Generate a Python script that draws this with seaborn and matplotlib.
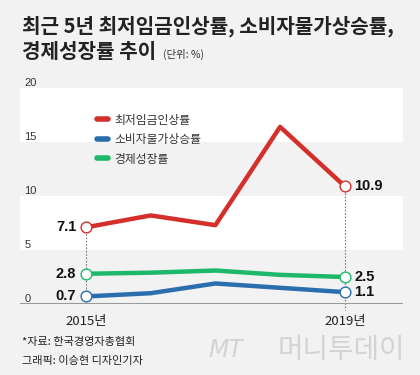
import pandas as pd
import matplotlib.pyplot as plt
import seaborn as sns
from matplotlib.lines import Line2D

# data (%)
years = ["2015", "2016", "2017", "2018", "2019"]
min_wage = [7.1, 8.2, 7.3, 16.4, 10.9]
cpi = [0.7, 1.0, 1.9, 1.5, 1.1]
gdp = [2.8, 2.9, 3.1, 2.7, 2.5]
series_names = ["최저임금인상률", "소비자물가상승률", "경제성장률"]
y_ticks = [0, 5, 10, 15, 20]

colors = {"최저임금인상률": "#d42f2b", "소비자물가상승률": "#2b6eae", "경제성장률": "#1db86a"}
bg = "#f2f2f2"
num_font = ["Liberation Sans", "Noto Sans CJK KR", "DejaVu Sans"]

rows = []
for name, vals in zip(series_names, [min_wage, cpi, gdp]):
    for i, v in enumerate(vals):
        rows.append({"idx": i, "year": years[i], "series": name, "value": v})
df = pd.DataFrame(rows)

sns.set_theme(style="white")
plt.rcParams['font.family'] = ['Noto Sans CJK KR', 'DejaVu Sans']

fig = plt.figure(figsize=(4.2, 3.75), dpi=100)
fig.patch.set_facecolor(bg)
ax = fig.add_axes([20 / 420, (375 - 304) / 375, 383 / 420, 216 / 375])
ax.set_facecolor(bg)

# white bands
ax.axhspan(15, 20, color="white", zorder=0, lw=0)
ax.axhspan(5, 10, color="white", zorder=0, lw=0)

# dotted guides at endpoints
ax.plot([0, 0], [min_wage[0], cpi[0]], ls=(0, (1.5, 1.5)), color="#777777", lw=0.8, zorder=1)
ax.plot([4, 4], [min_wage[4], -0.6], ls=(0, (1.5, 1.5)), color="#777777", lw=0.8, zorder=1,
        clip_on=False)

sns.lineplot(data=df, x="idx", y="value", hue="series", hue_order=series_names,
             palette=colors, linewidth=3.2, ax=ax, legend=False, zorder=2)

ends = df[df["idx"].isin([0, 4])]
for name in series_names:
    sub = ends[ends["series"] == name]
    ax.scatter(sub["idx"], sub["value"], s=60, facecolor="white",
               edgecolor=colors[name], linewidth=1.0, zorder=3)

# value labels
for name in series_names:
    sub = df[df["series"] == name]
    v0 = sub[sub["idx"] == 0]["value"].iloc[0]
    v4 = sub[sub["idx"] == 4]["value"].iloc[0]
    ax.text(-0.15, v0, f"{v0:.1f}", ha="right", va="center", fontsize=10.5,
            fontweight="bold", color="#111111", family=num_font)
    ax.text(4.15, v4, f"{v4:.1f}", ha="left", va="center", fontsize=10.5,
            fontweight="bold", color="#111111", family=num_font)

# baseline
ax.axhline(0, color="#9a9a9a", lw=1.5, zorder=1)

# y tick labels above gridlines
for t in y_ticks:
    ax.text(-0.95, t + 0.45, str(t), ha="left", va="center", fontsize=8,
            color="#333333", family=num_font)

ax.set_xlim(-1.02, 4.9)
ax.set_ylim(0, 20)
ax.axis("off")

# year labels
ax.text(0, -1.6, years[0] + "년", ha="center", va="center", fontsize=9.5, color="#222222")
ax.text(4, -1.6, years[4] + "년", ha="center", va="center", fontsize=9.5, color="#222222")

# legend
handles = [Line2D([0], [0], color=colors[n], lw=4) for n in series_names]
fig.legend(handles, series_names, loc="upper left", bbox_to_anchor=(86 / 420, 1 - 103 / 375),
           frameon=False, fontsize=8.5, handlelength=1.0, handletextpad=0.5,
           labelspacing=0.55, labelcolor="#333333")

# title
fig.text(22 / 420, 1 - 26 / 375, "최근 5년 최저임금인상률, 소비자물가상승률,", fontsize=14.5,
         fontweight="bold", color="#222222", va="center")
fig.text(22 / 420, 1 - 52 / 375, "경제성장률 추이", fontsize=14.5,
         fontweight="bold", color="#222222", va="center")
fig.text(163 / 420, 1 - 54 / 375, "(단위: %)", fontsize=7.5, color="#333333", va="center")

# source
fig.text(22 / 420, 1 - 342 / 375, "*자료: 한국경영자총협회", fontsize=8, color="#222222", va="center")
fig.text(22 / 420, 1 - 361 / 375, "그래픽: 이승현 디자인기자", fontsize=8, color="#222222", va="center")

# watermark
fig.text(208 / 420, 1 - 350 / 375, "MT", fontsize=17, style="italic", color="#d3d3d3",
         va="center", family=["DejaVu Sans"])
fig.text(405 / 420, 1 - 350 / 375, "머니투데이", fontsize=20, color="#d3d3d3",
         va="center", ha="right")

plt.savefig("out.png", dpi=100, facecolor=bg)
plt.close()
